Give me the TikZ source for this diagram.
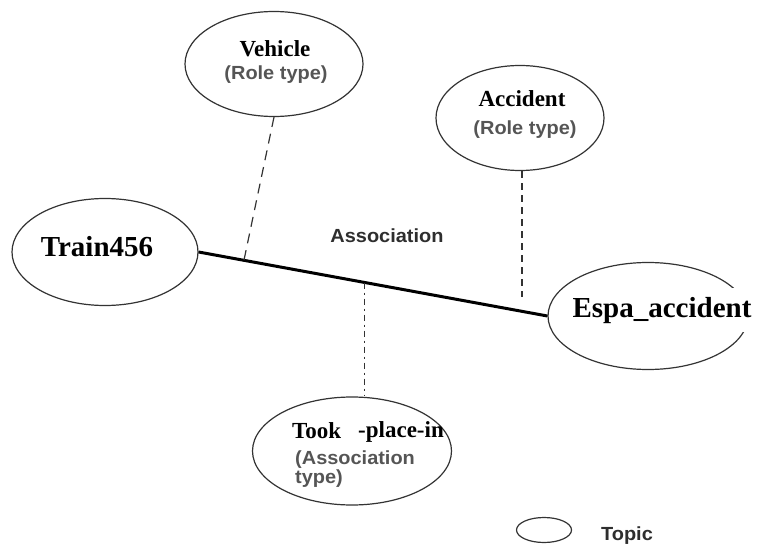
\documentclass[tikz,border=0pt]{standalone}
\usepackage{fontspec}
\setmainfont{Liberation Serif}
\newfontfamily\graysans[FakeStretch=1.05]{Liberation Sans}
\usetikzlibrary{shapes.geometric,calc}
\definecolor{edgecol}{HTML}{333333}
\definecolor{graytxt}{HTML}{555555}
\definecolor{darktxt}{HTML}{2E2E2E}
\begin{document}
\begin{tikzpicture}[x=1pt,y=-1pt,
  topic/.style={ellipse, draw=edgecol, line width=1.2pt, inner sep=0pt},
  bigtxt/.style={font=\fontsize{29}{31}\selectfont\bfseries, inner sep=0pt},
  midtxt/.style={font=\fontsize{23}{25}\selectfont\bfseries, inner sep=0pt},
  subtxt/.style={font=\graysans\fontsize{19}{21}\selectfont\bfseries, text=graytxt, inner sep=0pt},
  assoc/.style={line width=3pt, black},
  rolelink/.style={draw=edgecol, line width=1.2pt, dash pattern=on 10pt off 7pt},
  rolelinkb/.style={draw=edgecol, line width=1.2pt, dash pattern=on 7pt off 5pt},
  typelink/.style={draw=edgecol, line width=1pt, dash pattern=on 6pt off 4pt on 2pt off 4pt}]
\useasboundingbox (0,0) rectangle (757,545);
% topic ellipses
\node[topic, minimum width=178pt, minimum height=105pt] (vehicle) at (274,64) {};
\node[topic, minimum width=168pt, minimum height=105pt] (accident) at (520,118) {};
\node[topic, minimum width=186pt, minimum height=107pt] (train) at (105,252) {};
\node[topic, minimum width=200pt, minimum height=107pt] (espa) at (648,316) {};
\node[topic, minimum width=199pt, minimum height=108pt] (took) at (352,451) {};
\node[topic, minimum width=55pt, minimum height=25pt] (legend) at (544,530) {};
% association line
\draw[assoc] (train.east) -- (espa.west);
\coordinate (vpt) at ($(train.east)!0.13!(espa.west)$);
\coordinate (tpt) at ($(train.east)!0.477!(espa.west)$);
\coordinate (apt) at (522,297);
\draw[rolelink] (vehicle.south) -- (vpt);
\draw[rolelinkb] (accident.south -| apt) -- (apt);
\draw[typelink] (tpt) -- (tpt |- took.north);
% texts
\node[midtxt, anchor=base] (vehtxt) at (275,57) {Vehicle};
\node[subtxt, anchor=base] (vehrole) at (276,80) {(Role type)};
\node[midtxt, anchor=base] (acctxt) at (522,107) {Accident};
\node[subtxt, anchor=base] (accrole) at (525,135) {(Role type)};
\node[bigtxt, anchor=base] (traintxt) at (97,257) {Train456};
\node[bigtxt, anchor=base, fill=white, inner xsep=2pt, inner ysep=9pt] (espatxt) at (662,317) {Espa\_accident};
\node[subtxt, text=darktxt] (assoctxt) at (387,236) {Association};
\node[midtxt, anchor=base west] (tooktxt) at (292,438) {Took};
\node[midtxt, anchor=base west] (placetxt) at (358,437) {-place-in};
\node[subtxt, anchor=base west] (assoctype1) at (295,464) {(Association};
\node[subtxt, anchor=base west] (assoctype2) at (295,483.5) {type)};
\node[subtxt, text=darktxt, anchor=base] (topictxt) at (627,540) {Topic};
\end{tikzpicture}
\end{document}
